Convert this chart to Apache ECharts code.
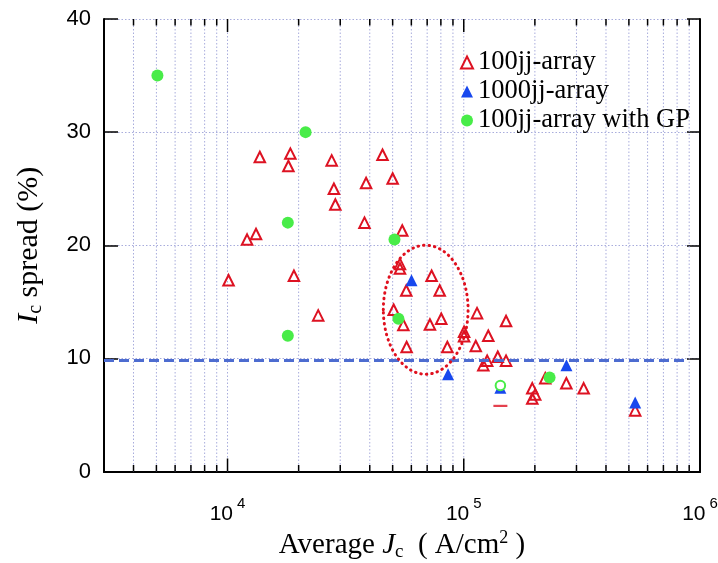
<!DOCTYPE html>
<html><head><meta charset="utf-8">
<script src="https://cdn.jsdelivr.net/npm/echarts@6/dist/echarts.min.js"></script>
<style>html,body{margin:0;padding:0;background:#fff}#c{width:718px;height:563px}</style>
</head><body><div id="c"></div>
<script>
// ---- axes ----
const xMin = 3000, xMax = 1000000;
const yMin = 0, yMax = 40, yStep = 10;
const xMajorTicks = [10000, 100000];
const xMinorTicks = [4000,5000,6000,7000,8000,9000,20000,30000,40000,50000,60000,70000,80000,90000,200000,300000,400000,500000,600000,700000,800000,900000];
const seriesNames = ['100jj-array', '1000jj-array', '100jj-array with GP'];

// ---- data ----
const jj100X = [10100,12100,13200,13700,18100,18450,19100,24200,27600,28200,28600,38000,38600,45300,50000,54900,53700,53700,73100,57100,79100,50500,55500,71900,80300,57300,85200,113800,100300,100300,127000,112400,125600,121000,139300,151000,151000,221300,195000,200600,195000,271800,321800,531600];
const jj100Y = [16.9,20.5,21.0,27.8,27.0,28.1,17.3,13.8,27.5,25.0,23.6,22.0,25.5,28.0,25.9,21.3,18.35,17.95,17.3,16.0,16.0,14.3,12.95,13.0,13.5,11.0,11.0,14.0,12.35,11.95,12.0,11.1,9.8,9.4,10.15,13.3,9.8,8.25,7.35,6.8,6.45,7.8,7.35,5.4];
const jj1000X = [60100, 85800, 142900, 272000, 531600];
const jj1000Y = [16.9, 8.6, 7.4, 9.4, 6.1];
const gpX = [5050, 21400, 18000, 18000, 50900, 52900, 230800];
const gpY = [35.0, 30.0, 22.0, 12.0, 20.5, 13.5, 8.3];
const gpHollowX = [142900];
const gpHollowY = [7.6];
const partialX = [142900];
const partialY = [5.8];
const targetLine = 9.85;
const ellipseXRange = [45660, 104300];
const ellipseYRange = [8.6, 20.0];

const RED = '#dd1222', BLUE = '#1848ee', GREEN = '#48ec48', GRID = '#a8acdc';
const SERIF = '"Liberation Serif","Times New Roman",serif';
const SANS = '"Liberation Sans",Arial,sans-serif';

const zip = (xs, ys) => xs.map((x, i) => [x, ys[i]]);
const tickData = xMajorTicks.map(v => [v, 1]).concat(xMinorTicks.map(v => [v, 0]));

const chart = echarts.init(document.getElementById('c'), null, {renderer: 'canvas'});
chart.setOption({
  animation: false,
  backgroundColor: '#fff',
  grid: {left: 104, right: 18, top: 19, bottom: 91.5, containLabel: false, outerBoundsMode: 'none'},
  legend: {
    data: seriesNames, orient: 'vertical', left: 455, top: 44,
    itemWidth: 12, itemHeight: 12, itemGap: 2,
    textStyle: {fontFamily: SERIF, fontSize: 26.5, color: '#000', lineHeight: 25.5, padding: [0, 0, 0, 0]}
  },
  xAxis: [{
    type: 'log', logBase: 10, min: xMin, max: xMax, position: 'bottom',
    axisLine: {show: true, lineStyle: {color: '#000', width: 2}},
    axisTick: {show: false}, splitLine: {show: false}, minorTick: {show: false},
    axisLabel: {
      showMinLabel: false, margin: 24.5,
      formatter: v => {
        const e = Math.log10(v);
        if (Math.abs(e - Math.round(e)) > 1e-6) return '';
        return '{b|10}{s|' + Math.round(e) + '}';
      },
      rich: {
        b: {fontFamily: SANS, fontSize: 21, color: '#000', lineHeight: 36},
        s: {fontFamily: SANS, fontSize: 15, color: '#000', lineHeight: 15, verticalAlign: 'top', padding: [0, 0, 0, 4]}
      }
    },
    name: '{t|Average }{i|J}{s|c}{t|  ( A/cm}{p|2}{t| )}',
    nameLocation: 'middle', nameGap: 58,
    nameTextStyle: {
      rich: {
        t: {fontFamily: SERIF, fontSize: 29, color: '#000', lineHeight: 32},
        i: {fontFamily: SERIF, fontSize: 29, fontStyle: 'italic', color: '#000', lineHeight: 32},
        s: {fontFamily: SERIF, fontSize: 19, color: '#000', lineHeight: 19, verticalAlign: 'bottom'},
        p: {fontFamily: SERIF, fontSize: 18, color: '#000', lineHeight: 18, verticalAlign: 'top'}
      }
    }
  }, {
    type: 'log', logBase: 10, min: xMin, max: xMax, position: 'top',
    axisLine: {show: true, lineStyle: {color: '#000', width: 2}},
    axisTick: {show: false}, axisLabel: {show: false}, splitLine: {show: false}
  }],
  yAxis: [{
    type: 'value', min: yMin, max: yMax, interval: yStep, position: 'left',
    axisLine: {show: true, lineStyle: {color: '#000', width: 2}},
    axisTick: {show: true, inside: true, length: 14, lineStyle: {color: '#000', width: 1.5}},
    axisLabel: {fontFamily: SANS, fontSize: 22, color: '#000', margin: 13},
    splitLine: {show: true, lineStyle: {color: GRID, width: 1, type: [1.5, 2]}},
    name: '{i|I}{s|c}{t| spread (%)}',
    nameLocation: 'middle', nameRotate: 90, nameGap: 58,
    nameTextStyle: {
      rich: {
        t: {fontFamily: SERIF, fontSize: 30, color: '#000', lineHeight: 34},
        i: {fontFamily: SERIF, fontSize: 30, fontStyle: 'italic', color: '#000', lineHeight: 34},
        s: {fontFamily: SERIF, fontSize: 20, color: '#000', lineHeight: 20, verticalAlign: 'bottom'}
      }
    }
  }, {
    type: 'value', min: yMin, max: yMax, interval: yStep, position: 'right',
    axisLine: {show: true, lineStyle: {color: '#000', width: 2}},
    axisTick: {show: true, inside: true, length: 13, lineStyle: {color: '#000', width: 1.5}},
    axisLabel: {show: false}, splitLine: {show: false}
  }],
  series: [
    {
      name: 'xticks', type: 'custom', xAxisIndex: 0, yAxisIndex: 0, silent: true, z: 1,
      data: tickData, encode: {x: 0},
      renderItem: (params, api) => {
        const v = api.value(0), major = api.value(1) === 1;
        const b = api.coord([v, yMin]), t = api.coord([v, yMax]);
        const len = major ? 13 : 6.5;
        return {type: 'group', children: [
          {type: 'line', shape: {x1: b[0], y1: b[1], x2: t[0], y2: t[1]}, style: {stroke: GRID, lineWidth: 1, lineDash: [1.5, 2]}},
          {type: 'line', shape: {x1: b[0], y1: b[1], x2: b[0], y2: b[1] - len}, style: {stroke: '#000', lineWidth: 1.5}},
          {type: 'line', shape: {x1: t[0], y1: t[1], x2: t[0], y2: t[1] + len}, style: {stroke: '#000', lineWidth: 1.5}}
        ]};
      }
    },
    {
      name: 'target', type: 'line', data: [], z: 2,
      markLine: {silent: true, symbol: 'none', label: {show: false},
        lineStyle: {color: '#4d6cd0', width: 3, type: [10, 5]},
        data: [[{xAxis: xMin, yAxis: targetLine}, {xAxis: 880000, yAxis: targetLine}]]}
    },
    {
      name: seriesNames[0], type: 'scatter', z: 3, symbol: 'triangle', symbolSize: 10.5,
      itemStyle: {color: 'rgba(255,255,255,0)', borderColor: RED, borderWidth: 2, opacity: 1},
      data: zip(jj100X, jj100Y)
    },
    {
      name: 'partial', type: 'scatter', z: 3, symbol: 'rect', symbolSize: [14, 2.2],
      itemStyle: {color: RED}, data: zip(partialX, partialY)
    },
    {
      name: seriesNames[1], type: 'scatter', z: 4, symbol: 'triangle', symbolSize: 12,
      itemStyle: {color: BLUE, opacity: 1}, data: zip(jj1000X, jj1000Y)
    },
    {
      name: seriesNames[2], type: 'scatter', z: 5, symbol: 'circle', symbolSize: 12,
      itemStyle: {color: GREEN, opacity: 1},
      data: zip(gpX, gpY).concat(zip(gpHollowX, gpHollowY).map(p => ({
        value: p, symbolSize: 9.5, itemStyle: {color: '#fff', borderColor: GREEN, borderWidth: 2}
      })))
    }
  ]
});

// dotted ellipse annotation placed through the axes' scales
const P = p => chart.convertToPixel({xAxisIndex: 0, yAxisIndex: 0}, p);
const yMid = (ellipseYRange[0] + ellipseYRange[1]) / 2;
const lp = P([ellipseXRange[0], yMid]), rp = P([ellipseXRange[1], yMid]);
const tp = P([ellipseXRange[0], ellipseYRange[1]]), bp = P([ellipseXRange[0], ellipseYRange[0]]);
chart.setOption({graphic: [{
  type: 'ellipse', z: 10, silent: true,
  shape: {cx: (lp[0] + rp[0]) / 2, cy: (tp[1] + bp[1]) / 2, rx: (rp[0] - lp[0]) / 2, ry: (bp[1] - tp[1]) / 2},
  style: {fill: 'none', stroke: '#e0101e', lineWidth: 3, lineDash: [0.5, 5], lineCap: 'round'}
}]});
</script></body></html>
